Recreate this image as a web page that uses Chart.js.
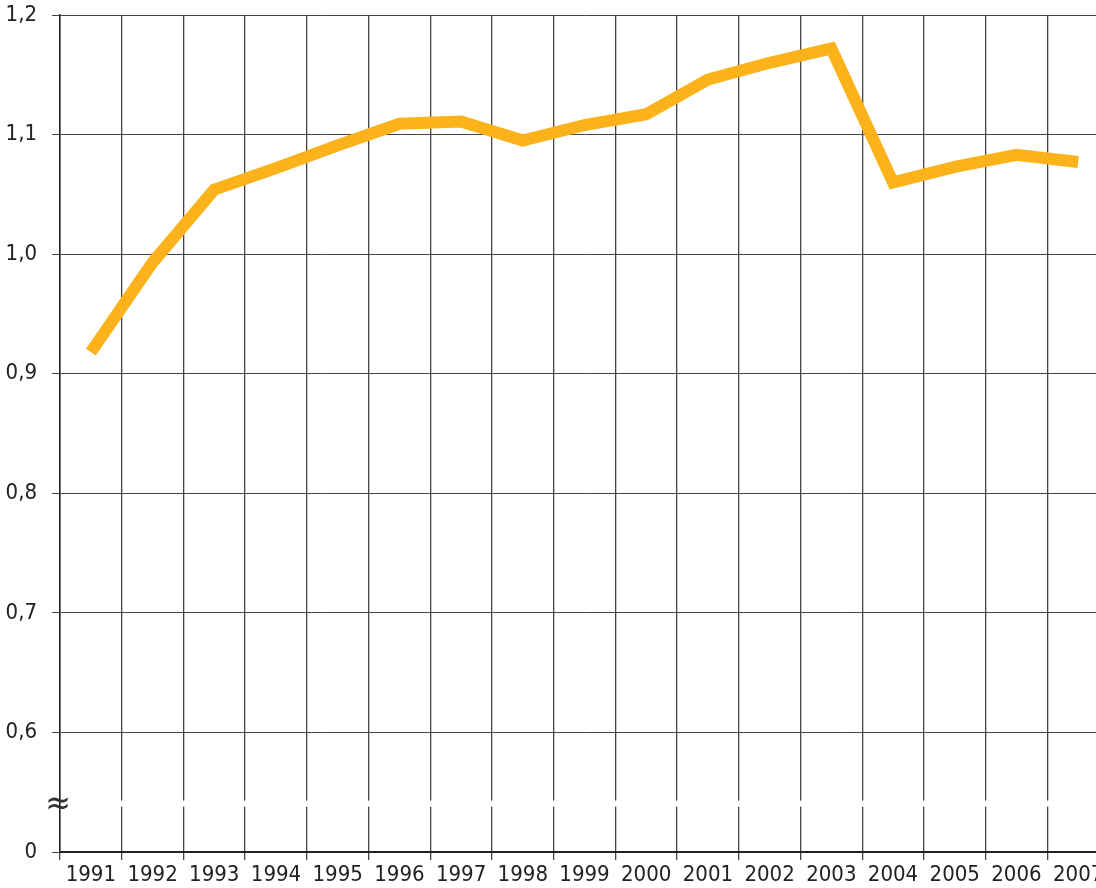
<!DOCTYPE html>
<html>
<head>
<meta charset="utf-8">
<script src="https://cdn.jsdelivr.net/npm/chart.js"></script>
<style>
  html, body { margin: 0; padding: 0; background: #fff; overflow: hidden; }
  #wrap { width: 1120px; height: 888px; }
</style>
</head>
<body>
<div id="wrap"><canvas id="chart"></canvas></div>
<script>
// data
const years = ['1991','1992','1993','1994','1995','1996','1997','1998','1999',
  '2000','2001','2002','2003','2004','2005','2006','2007'];
const values = [0.918, 0.993, 1.054, 1.072, 1.091, 1.109, 1.111, 1.095, 1.108,
  1.117, 1.146, 1.160, 1.172, 1.060, 1.073, 1.083, 1.077];
const yTicks = [0.5, 0.6, 0.7, 0.8, 0.9, 1.0, 1.1, 1.2];
const yLabels = ['0', '0,6', '0,7', '0,8', '0,9', '1,0', '1,1', '1,2'];

const FONT = '"Liberation Sans Narrow", "DejaVu Sans Condensed", "Roboto Condensed", sans-serif';

// axis break: white gap across vertical lines + wavy sign
const breakPlugin = {
  id: 'axisBreak',
  beforeDatasetsDraw(chart) {
    const { ctx, chartArea, scales } = chart;
    const y = scales.y.getPixelForValue(0.5405);
    ctx.save();
    ctx.fillStyle = '#fff';
    ctx.fillRect(chartArea.left + 1, y - 3, chartArea.right - chartArea.left, 6);
    ctx.fillStyle = '#333';
    ctx.font = '34px ' + FONT;
    ctx.textAlign = 'center';
    ctx.textBaseline = 'middle';
    ctx.fillText('\u2248', chartArea.left - 2, y + 2);
    ctx.restore();
  }
};

new Chart(document.getElementById('chart'), {
  type: 'line',
  data: {
    labels: years,
    datasets: [{
      data: values,
      borderColor: '#fcb31b',
      borderWidth: 12,
      borderCapStyle: 'butt',
      borderJoinStyle: 'miter',
      pointRadius: 0,
      tension: 0,
      fill: false
    }]
  },
  options: {
    responsive: true,
    maintainAspectRatio: false,
    animation: false,
    layout: { autoPadding: false, padding: { top: 15, right: 11, left: 0, bottom: 0 } },
    plugins: { legend: { display: false }, tooltip: { enabled: false } },
    scales: {
      x: {
        type: 'category',
        offset: true,
        grid: { offset: true, color: '#444', lineWidth: 1.3, tickLength: 8, drawTicks: true },
        border: { color: '#222', width: 2 },
        ticks: { color: '#222', font: { family: FONT, size: 22 }, padding: 2, maxRotation: 0, autoSkip: false },
        afterFit(scale) { scale.height = 36; scale.paddingLeft = 0; scale.paddingRight = 0; }
      },
      y: {
        min: 0.5,
        max: 1.2,
        afterBuildTicks(scale) { scale.ticks = yTicks.map(v => ({ value: v })); },
        grid: { color: '#444', lineWidth: 1, tickLength: 8 },
        border: { color: '#222', width: 1.5 },
        ticks: {
          color: '#222',
          font: { family: FONT, size: 22 },
          padding: 15,
          callback: (v) => yLabels[yTicks.findIndex(t => Math.abs(t - v) < 1e-6)]
        },
        afterFit(scale) { scale.width = 60; scale.paddingTop = 0; scale.paddingBottom = 0; }
      }
    }
  },
  plugins: [breakPlugin]
});
</script>
</body>
</html>
